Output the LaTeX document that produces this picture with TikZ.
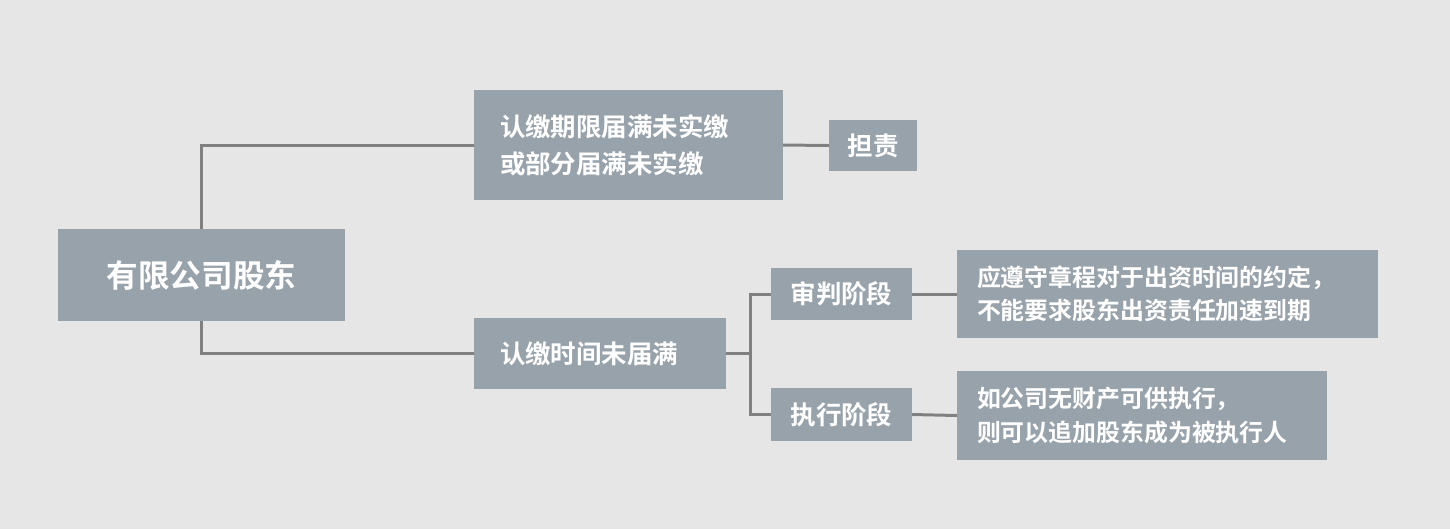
\documentclass[tikz,border=0pt]{standalone}
\usepackage{fontspec}
\setmainfont{Noto Sans CJK SC}[BoldFont={* Bold}]
\definecolor{bg}{HTML}{E6E6E6}
\definecolor{boxc}{HTML}{98A2AA}
\definecolor{linec}{HTML}{808080}
\tikzset{
  bx/.style={fill=boxc, text=white, font=\bfseries\fontsize{14.5pt}{21pt}\selectfont, inner sep=0pt, outer sep=0pt, anchor=center},
  lbox/.style={bx, align=left},
  conn/.style={draw=linec, line width=1.7pt}
}
\begin{document}
\begin{tikzpicture}[x=0.02cm,y=-0.02cm]
\fill[bg] (0,0) rectangle (1450,529);
\useasboundingbox (0,0) rectangle (1450,529);
\node[bx, minimum width=5.74cm, minimum height=1.84cm, font=\bfseries\fontsize{18pt}{22pt}\selectfont] (root) at (201.5,275) {有限公司股东};
\node[lbox, minimum width=6.18cm, minimum height=2.2cm, text width=5.14cm] (a) at (628.5,145) {认缴期限届满未实缴\\或部分届满未实缴};
\node[bx, minimum width=1.76cm, minimum height=1.02cm] (d) at (873,145.5) {担责};
\node[lbox, minimum width=5.04cm, minimum height=1.42cm, text width=4.0cm] (b) at (600,353.5) {认缴时间未届满};
\node[bx, minimum width=2.82cm, minimum height=1.04cm] (s) at (841.5,294) {审判阶段};
\node[bx, minimum width=2.82cm, minimum height=1.06cm] (e) at (841.5,414.5) {执行阶段};
\node[lbox, minimum width=8.42cm, minimum height=1.76cm, text width=7.62cm, font=\bfseries\fontsize{13.6pt}{18.8pt}\selectfont] (c1) at (1167.5,294) {应遵守章程对于出资时间的约定，\\不能要求股东出资责任加速到期};
\node[lbox, minimum width=7.4cm, minimum height=1.78cm, text width=6.6cm, font=\bfseries\fontsize{13.6pt}{18.8pt}\selectfont] (c2) at (1142,415.5) {如公司无财产可供执行，\\则可以追加股东成为被执行人};
\coordinate (j) at (750,353.5);
\draw[conn] (root.north) |- (a.west);
\draw[conn] (root.south) |- (b.west);
\draw[conn] (a.east) -- (d.west);
\draw[conn] (b.east) -- (j);
\draw[conn] (j) |- (s.west);
\draw[conn] (j) |- (e.west);
\draw[conn] (s.east) -- (c1.west);
\draw[conn] (e.east) -- (c2.west);
\end{tikzpicture}
\end{document}
